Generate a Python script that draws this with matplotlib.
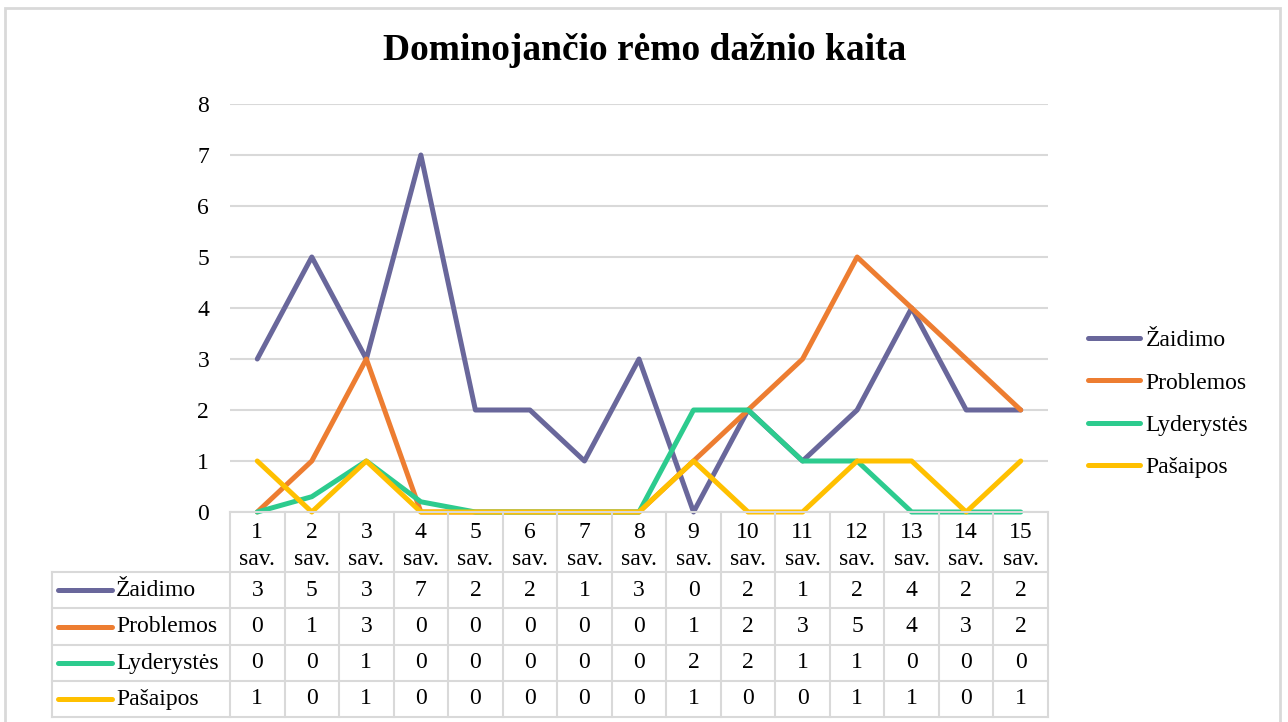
import matplotlib.pyplot as plt
from matplotlib.patches import Rectangle

plt.rcParams['font.family'] = ['Liberation Serif', 'DejaVu Serif']

# Data
weeks = [f"{i}\nsav." for i in range(1, 16)]
series_names = ['Žaidimo', 'Problemos', 'Lyderystės', 'Pašaipos']
zaidimo = [3, 5, 3, 7, 2, 2, 1, 3, 0, 2, 1, 2, 4, 2, 2]
problemos = [0, 1, 3, 0, 0, 0, 0, 0, 1, 2, 3, 5, 4, 3, 2]
lyderystes = [0, 0.3, 1, 0.2, 0, 0, 0, 0, 2, 2, 1, 1, 0, 0, 0]
pasaipos = [1, 0, 1, 0, 0, 0, 0, 0, 1, 0, 0, 1, 1, 0, 1]
series = [zaidimo, problemos, lyderystes, pasaipos]
colors = ['#69679B', '#ED7D31', '#2DCB8E', '#FFC000']

W, H = 1288, 722
fig = plt.figure(figsize=(W / 100, H / 100), dpi=100)


def box(l, t, r, b):
    return [l / W, 1 - b / H, (r - l) / W, (b - t) / H]


grid_c = '#D9D9D9'
fs = 17
lw = 3.6

# chart border
fig.patches.append(Rectangle((5 / W, -0.1), 1275 / W, 1.1 - 8 / H, transform=fig.transFigure,
                             fill=False, ec=grid_c, lw=2))

# Main plot
ax = fig.add_axes(box(230, 104, 1048, 512))
x = list(range(len(weeks)))
for name, vals, c in zip(series_names, series, colors):
    ax.plot(x, vals, color=c, lw=lw, solid_capstyle='round', solid_joinstyle='round',
            label=name, clip_on=False, zorder=3)
ax.set_xlim(-0.5, 14.5)
ax.set_ylim(0, 8)
ax.set_yticks(range(9))
ax.set_xticks([])
ax.grid(axis='y', color=grid_c, lw=1.5)
ax.set_axisbelow(True)
for s in ax.spines.values():
    s.set_visible(False)
ax.tick_params(axis='y', length=0, pad=15, labelsize=fs)

fig.text(645 / W, 1 - 50 / H, 'Dominojančio rėmo dažnio kaita', ha='center', va='center',
         fontsize=27, fontweight='bold')

ax.legend(loc='center left', bbox_to_anchor=(1088 / W, 1 - 404 / H), bbox_transform=fig.transFigure,
          frameon=False, fontsize=fs, handlelength=2.2, handletextpad=0.25, labelspacing=0.88,
          borderpad=0, borderaxespad=0)

# Data table
tax = fig.add_axes(box(230, 512, 1048, 717))
tax.set_xlim(-0.5, 14.5)
tax.set_ylim(205, 0)
tax.axis('off')
left = -0.5 - (230 - 52) / (818 / 15)
rows = [0, 60, 96, 133, 169, 205]
lk = dict(color=grid_c, lw=1.5, clip_on=False)
tax.plot([-0.5, 14.5], [0, 0], **lk)
for r in rows[1:]:
    tax.plot([left, 14.5], [r, r], **lk)
for k in range(16):
    tax.plot([k - 0.5, k - 0.5], [0, 205], **lk)
tax.plot([left, left], [60, 205], **lk)

for i, w in enumerate(weeks):
    tax.text(i, 34, w, ha='center', va='center', fontsize=fs, linespacing=1.4)

kx0 = -0.5 - (230 - 58) / (818 / 15)
kx1 = -0.5 - (230 - 112) / (818 / 15)
tx = -0.5 - (230 - 116) / (818 / 15)
for j, (name, vals, c) in enumerate(zip(series_names, series, colors)):
    yc = (rows[j + 1] + rows[j + 2]) / 2
    tax.plot([kx0, kx1], [yc, yc], color=c, lw=lw, solid_capstyle='round', clip_on=False)
    tax.text(tx, yc, name, ha='left', va='center', fontsize=fs)
    for i, v in enumerate(vals):
        tax.text(i, yc, f"{v:.0f}", ha='center', va='center', fontsize=fs)

fig.savefig('out.png', dpi=100)
